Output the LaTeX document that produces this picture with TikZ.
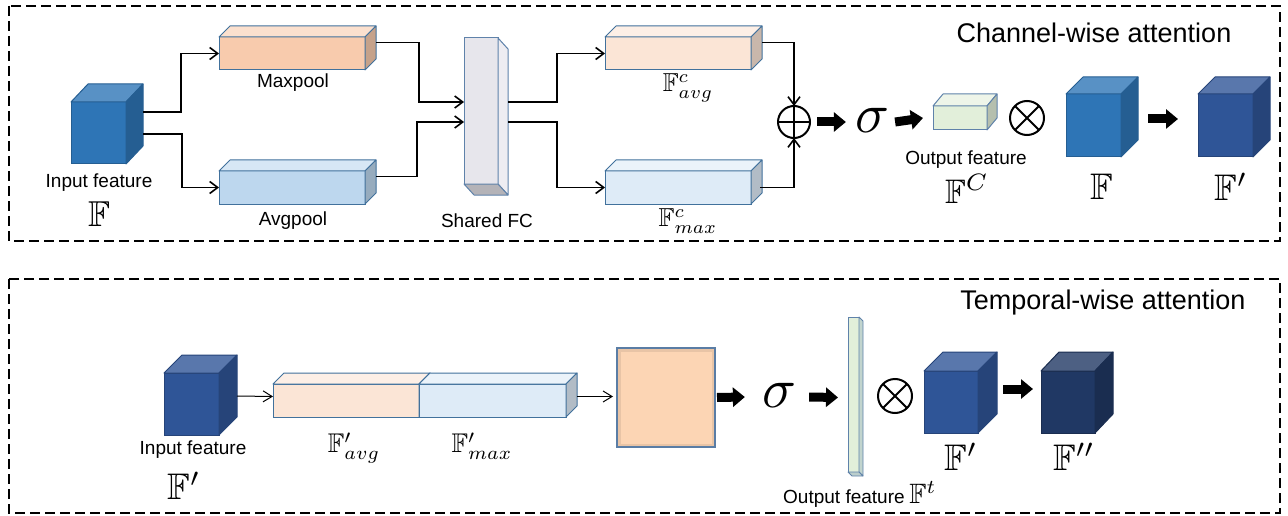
\documentclass[tikz,border=0pt]{standalone}
\usepackage{amssymb}
\usepackage{fontspec}
\setmainfont{Liberation Sans}
\usetikzlibrary{arrows.meta}
\definecolor{edgeblue}{RGB}{65,113,156}
\definecolor{cubeA}{RGB}{46,117,182}
\definecolor{cubeB}{RGB}{47,85,151}
\definecolor{cubeC}{RGB}{32,56,100}
\definecolor{peach}{RGB}{248,203,173}
\definecolor{lblue}{RGB}{189,215,238}
\definecolor{lpeach}{RGB}{251,229,214}
\definecolor{llblue}{RGB}{222,235,247}
\definecolor{lgreen}{RGB}{226,239,218}
\definecolor{fcgrey}{RGB}{231,230,236}
\definecolor{fcedge}{RGB}{95,130,170}
\definecolor{sqfill}{RGB}{252,213,180}
\definecolor{sqedge}{RGB}{90,125,165}
\def\topmix{60}
% #1 name, #2 x1, #3 y1, #4 x2, #5 y2, #6 dx, #7 dy (up), #8 fill, #9 edge
\newcommand\cuboid[9]{%
  \node[fill=#8, draw=#9, line width=1pt, inner sep=0pt, outer sep=0pt, anchor=north west,
        minimum width={(#4)-(#2)}, minimum height={(#5)-(#3)}] (#1) at (#2,#3) {};
  \filldraw[fill=#8!\topmix!white, draw=#9, line width=1pt, line join=round]
    (#1.north west) -- ++(#6,-#7) -- ++({(#4)-(#2)},0) -- (#1.north east) -- cycle;
  \filldraw[fill=#8!80!black, draw=#9, line width=1pt, line join=round]
    (#1.north east) -- ++(#6,-#7) -- ++(0,{(#5)-(#3)}) -- (#1.south east) -- cycle;
}
\begin{document}
\begin{tikzpicture}[x=1pt,y=-1pt,
  lab/.style={font=\fontsize{19}{22}\selectfont, inner sep=0pt},
  titlelab/.style={font=\fontsize{27}{32}\selectfont, inner sep=0pt},
  mlab/.style={font=\fontsize{10}{12}\selectfont, inner sep=0pt},
  conn/.style={line width=1.6pt, -{Straight Barb[length=8pt,width=12pt]}},
  thinconn/.style={line width=1pt, -{Straight Barb[length=9pt,width=11pt]}},
  fat/.style={line width=9pt, -{Triangle[length=12pt,width=19pt]}},
  opcirc/.style={circle, draw, line width=2pt, minimum size=32pt, inner sep=0pt, outer sep=0pt},
  frame/.style={line width=2pt, dash pattern=on 10pt off 5pt}]
\useasboundingbox (0,0) rectangle (1288,516);

% frames
\draw[frame] (9,6) rectangle (1280,241);
\draw[frame] (9,279) rectangle (1280,513);

% ---------------- Channel-wise attention ----------------
\node[titlelab] (title1) at (1094,33) {Channel-wise attention};

\def\topmix{80}
\cuboid{inF}{71}{102}{126}{164}{17}{18}{cubeA}{cubeA!80!black}
\def\topmix{60}
\cuboid{maxp}{219}{37}{365}{70}{11}{11}{peach}{edgeblue}
\cuboid{avgp}{219}{171}{365}{204}{11}{11}{lblue}{edgeblue}

% shared FC
\node[fill=fcgrey, draw=fcedge, line width=1pt, inner sep=0pt, outer sep=0pt, anchor=north west,
      minimum width=34pt, minimum height=146pt] (fc) at (464,38) {};
\filldraw[fill=fcgrey!70!white, draw=fcedge, line width=1pt, line join=round]
  (fc.north east) -- ++(10,11) -- ++(0,146) -- (fc.south east) -- cycle;
\filldraw[fill=fcgrey!78!black, draw=fcedge, line width=1pt, line join=round]
  (fc.south west) -- ++(10,11) -- ++(34,0) -- (fc.south east) -- cycle;

\cuboid{cavg}{605}{37}{751}{70}{11}{11}{lpeach}{edgeblue}
\cuboid{cmax}{605}{171}{751}{204}{11}{11}{llblue}{edgeblue}

\node[opcirc] (plus) at (794,122) {};
\draw[line width=2pt] (plus.north) -- (plus.south) (plus.west) -- (plus.east);

\node[mlab, scale=5.6] (sig1) at (872,120) {$\sigma$};

\cuboid{outc}{933}{106}{987}{130}{10}{12}{lgreen}{fcedge}

\node[opcirc, minimum size=34pt] (times1) at (1027,118) {};
\draw[line width=2pt] (times1.north west) -- (times1.south east) (times1.north east) -- (times1.south west);

\def\topmix{80}
\cuboid{Fc}{1066}{94}{1121}{157}{17}{17}{cubeA}{cubeA!80!black}
\cuboid{Fp}{1198}{94}{1253}{157}{17}{17}{cubeB}{cubeB!80!black}
\def\topmix{60}

% connectors top
\draw[conn] ([xshift=17pt,yshift=21pt]inF.east) -- ++(38,0) |- (maxp.west);
\draw[conn] ([xshift=17pt,yshift=-1pt]inF.east) -- ++(39,0) |- (avgp.west);
\draw[conn] ([xshift=11pt,yshift=11pt]maxp.east) -- ++(43,0) |- ([yshift=9pt]fc.west);
\draw[conn] ([xshift=11pt,yshift=11pt]avgp.east) -- ++(41,0) |- ([yshift=-11pt]fc.west);
\draw[conn] ([xshift=10pt,yshift=9pt]fc.east) -- ++(49,0) |- (cavg.west);
\draw[conn] ([xshift=10pt,yshift=-11pt]fc.east) -- ++(49,0) |- (cmax.west);
\draw[conn] ([xshift=11pt,yshift=11pt]cavg.east) -| (plus.north);
\draw[conn] ([xshift=9pt]cmax.east) -| (plus.south);
\draw[fat] ([xshift=7pt]plus.east) -- ([xshift=-8pt,yshift=-2pt]sig1.west);
\draw[fat] ([xshift=5pt,yshift=-2pt]sig1.east) -- ([xshift=-10pt]outc.west);
\draw[fat] ([xshift=27pt,yshift=6.5pt]Fc.east) -- ([xshift=-20pt,yshift=6.5pt]Fp.west);

% labels top
\node[lab] (inlab) at (99,183) {Input feature};
\node[mlab, scale=3.6] (inFlab) at (99,214) {$\mathbb{F}$};
\node[lab] (maxlab) at (293,83) {Maxpool};
\node[lab] (avglab) at (293,221) {Avgpool};
\node[lab] (fclab) at (487,221) {Shared FC};
\node[mlab, scale=2.6] (cavglab) at (688,88) {$\mathbb{F}^c_{avg}$};
\node[mlab, scale=2.6] (cmaxlab) at (688,221) {$\mathbb{F}^c_{max}$};
\node[lab] (outclab) at (966,160) {Output feature};
\node[mlab, scale=3.4] (outcF) at (967,189) {$\mathbb{F}^C$};
\node[mlab, scale=3.7] (Fclab) at (1102,187) {$\mathbb{F}$};
\node[mlab, scale=3.7] (Fplab) at (1231,187) {$\mathbb{F}'$};

% ---------------- Temporal-wise attention ----------------
\node[titlelab] (title2) at (1103,303) {Temporal-wise attention};

\def\topmix{80}
\cuboid{inFp}{164}{373}{219}{435}{18}{18}{cubeB}{cubeB!80!black}
\def\topmix{60}
\cuboid{favg}{273}{384}{419}{417}{11}{11}{lpeach}{edgeblue}
\cuboid{fmax}{419}{384}{566}{417}{11}{11}{llblue}{edgeblue}

\node[draw=sqedge, line width=1.2pt, fill=sqfill, minimum width=98pt, minimum height=99pt,
      inner sep=0pt, outer sep=0pt,
      path picture={\draw[sqfill!75!black, line width=7pt, opacity=.3]
        (path picture bounding box.south west) rectangle (path picture bounding box.north east);}]
      (sq) at (666,397.5) {};

\node[mlab, scale=5.6] (sig2) at (779,395) {$\sigma$};

% output bar
\node[fill=lgreen, draw=fcedge, line width=1pt, inner sep=0pt, outer sep=0pt, anchor=north west,
      minimum width=11pt, minimum height=155pt] (bar) at (848,317) {};
\filldraw[fill=lgreen!75!fcedge, draw=fcedge, line width=0.8pt, line join=round]
  (bar.north east) -- ++(4,4) -- ++(0,155) -- (bar.south east) -- cycle;
\filldraw[fill=lgreen!70!fcedge, draw=fcedge, line width=0.8pt, line join=round]
  (bar.south west) -- ++(4,4) -- ++(11,0) -- (bar.south east) -- cycle;

\node[opcirc, minimum size=34pt] (times2) at (895,396) {};
\draw[line width=2pt] (times2.north west) -- (times2.south east) (times2.north east) -- (times2.south west);

\def\topmix{80}
\cuboid{Fp2}{924}{371}{978}{433}{19}{19}{cubeB}{cubeB!80!black}
\cuboid{Fpp}{1041}{371}{1095}{433}{18}{19}{cubeC}{cubeC!80!black}
\def\topmix{60}

% connectors bottom
\draw[thinconn] ([xshift=18pt,yshift=8pt]inFp.east) -- ([yshift=4pt]favg.west);
\draw[thinconn] ([xshift=11pt,yshift=4pt]fmax.east) -- ([xshift=-4pt,yshift=1pt]sq.west);
\draw[fat] ([xshift=2pt]sq.east) -- ([xshift=-16pt,yshift=-2pt]sig2.west);
\draw[fat] ([xshift=12pt,yshift=-2pt]sig2.east) -- ([xshift=-10pt,yshift=-3pt]bar.west);
\draw[fat] ([xshift=25pt,yshift=13pt]Fp2.east) -- ([xshift=-8pt,yshift=13pt]Fpp.west);

% labels bottom
\node[lab] (inlab2) at (193,450) {Input feature};
\node[mlab, scale=3.7] (inFplab) at (184,486) {$\mathbb{F}'$};
\node[mlab, scale=2.7] (favglab) at (354,448) {$\mathbb{F}'_{avg}$};
\node[mlab, scale=2.7] (fmaxlab) at (482,446) {$\mathbb{F}'_{max}$};
\node[lab, anchor=west] (outtlab) at (783,499) {Output feature};
\node[mlab, scale=2.8, anchor=base west] (Ftlab) at ([xshift=4pt]outtlab.base east) {$\mathbb{F}^t$};
\node[mlab, scale=3.7] (Fp2lab) at (961,457) {$\mathbb{F}'$};
\node[mlab, scale=3.7] (Fpplab) at (1074,457) {$\mathbb{F}''$};
\end{tikzpicture}
\end{document}
